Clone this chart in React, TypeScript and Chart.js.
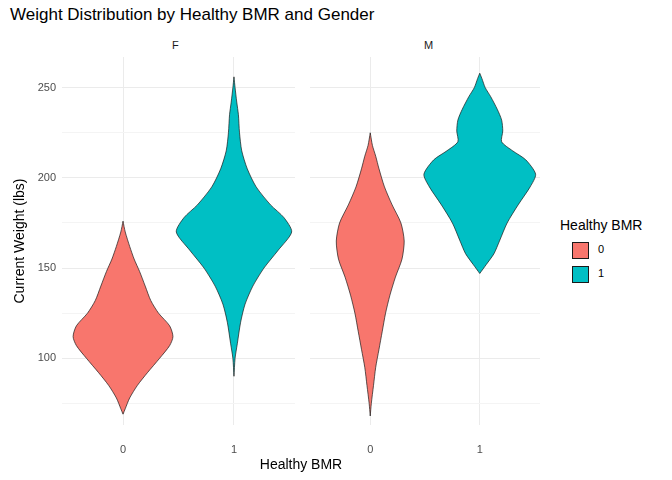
import React, { useEffect, useRef } from "react";
import { Chart, registerables } from "chart.js";
Chart.register(...registerables);

const genders = ["F", "M"];
const groupLabels = ["0", "1"];
const colors = ["#F8766D", "#00BFC4"];
// violin profiles: weight (lbs) and half-width (fraction of category spacing)
const f0Weight = [69, 72, 78, 85, 92, 100, 107, 112, 118, 125, 132, 140, 148, 155, 162, 170, 176];
const f0Half = [0, 0.02, 0.06, 0.13, 0.22, 0.33, 0.42, 0.45, 0.42, 0.32, 0.25, 0.2, 0.15, 0.1, 0.06, 0.02, 0];
const f1Weight = [90, 100, 108, 120, 130, 140, 150, 160, 170, 178, 185, 195, 205, 215, 225, 235, 242, 250, 256];
const f1Half = [0, 0.01, 0.03, 0.06, 0.1, 0.17, 0.27, 0.4, 0.52, 0.45, 0.33, 0.2, 0.12, 0.07, 0.05, 0.04, 0.025, 0.01, 0];
const m0Weight = [68, 75, 85, 95, 105, 115, 125, 135, 145, 155, 165, 175, 185, 195, 205, 212, 218, 225];
const m0Half = [0, 0.01, 0.03, 0.05, 0.08, 0.11, 0.14, 0.18, 0.23, 0.29, 0.31, 0.28, 0.2, 0.13, 0.08, 0.05, 0.02, 0];
const m1Weight = [147, 152, 158, 165, 175, 185, 195, 202, 210, 215, 220, 226, 232, 238, 245, 250, 255, 258];
const m1Half = [0, 0.06, 0.13, 0.18, 0.25, 0.35, 0.46, 0.51, 0.42, 0.3, 0.2, 0.21, 0.2, 0.16, 0.1, 0.05, 0.02, 0];

const panels = [
  [[f0Weight, f0Half], [f1Weight, f1Half]],
  [[m0Weight, m0Half], [m1Weight, m1Half]],
];

const FONT = "'Liberation Sans', Arial, sans-serif";

function violin(center: number, w: number[], h: number[]) {
  const pts: { x: number; y: number }[] = [];
  for (let i = 0; i < w.length; i++) pts.push({ x: center + h[i], y: w[i] });
  for (let i = w.length - 1; i >= 0; i--) pts.push({ x: center - h[i], y: w[i] });
  return pts;
}

function Panel({ idx }: { idx: number }) {
  const ref = useRef<HTMLCanvasElement>(null);
  useEffect(() => {
    const left = idx === 0;
    const chart = new Chart(ref.current!, {
      type: "scatter",
      data: {
        datasets: panels[idx].map((p, g) => ({
          data: violin(g, p[0], p[1]),
          showLine: true,
          fill: "shape" as any,
          backgroundColor: colors[g],
          borderColor: "#1a1a1a",
          borderWidth: 0.7,
          pointRadius: 0,
          tension: 0.25,
        })),
      },
      options: {
        animation: false,
        responsive: false,
        layout: { padding: { left: 10, right: 5, top: 7, bottom: 0 } },
        plugins: { legend: { display: false }, tooltip: { enabled: false } },
        scales: {
          x: {
            type: "linear",
            min: -0.55,
            max: 1.55,
            afterBuildTicks: (s: any) => { s.ticks = [{ value: 0 }, { value: 1 }]; },
            afterFit: (s: any) => { s.height = 55; s.paddingTop = 0; },
            ticks: {
              padding: 18,
              color: "#4D4D4D",
              font: { family: FONT, size: 11 },
              callback: (v: any) => groupLabels[Number(v)] ?? "",
            },
            grid: { color: "#EBEBEB", drawTicks: false },
            border: { display: false },
          },
          y: {
            min: 63,
            max: 267,
            afterBuildTicks: (s: any) => {
              const t = [];
              for (let v = 75; v <= 250; v += 25) t.push({ value: v });
              s.ticks = t;
            },
            afterFit: (s: any) => {
              s.width = left ? 52 : 0;
              s.paddingTop = 0;
              s.paddingBottom = 0;
            },
            ticks: {
              display: left,
              padding: 6,
              color: "#4D4D4D",
              font: { family: FONT, size: 11 },
              callback: (v: any) => (Number(v) % 50 === 0 ? String(v) : ""),
            },
            grid: {
              color: (c: any) => (c.tick && c.tick.value % 50 === 0 ? "#EBEBEB" : "#F4F4F4"),
              drawTicks: false,
            },
            border: { display: false },
            title: {
              display: left,
              text: "Current Weight (lbs)",
              color: "#000",
              font: { family: FONT, size: 14 },
              padding: 2,
            },
          },
        },
      },
    });
    return () => chart.destroy();
  }, [idx]);
  const w = idx === 0 ? 300 : 245;
  return <canvas ref={ref} width={w} height={430} style={{ position: "absolute", left: idx === 0 ? 0 : 300, top: 50, width: w, height: 430 }} />;
}

export default function App() {
  const txt = { position: "absolute" as const, fontFamily: FONT, whiteSpace: "nowrap" as const };
  return (
    <div style={{ position: "fixed", left: 0, top: 0, width: 672, height: 480, background: "#fff" }}>
      <div style={{ ...txt, left: 10, top: 5, fontSize: 17, color: "#000" }}>Weight Distribution by Healthy BMR and Gender</div>
      <div style={{ ...txt, left: 172, top: 39, fontSize: 11, color: "#1A1A1A" }}>{genders[0]}</div>
      <div style={{ ...txt, left: 424, top: 39, fontSize: 11, color: "#1A1A1A" }}>{genders[1]}</div>
      <Panel idx={0} />
      <Panel idx={1} />
      <div style={{ ...txt, left: 0, width: 602, textAlign: "center", top: 456, fontSize: 14, color: "#000" }}>Healthy BMR</div>
      <div style={{ ...txt, left: 560, top: 217, fontSize: 14, color: "#000" }}>Healthy BMR</div>
      {groupLabels.map((g, i) => (
        <React.Fragment key={g}>
          <div style={{ position: "absolute", left: 572, top: 242 + i * 24, width: 17, height: 17, background: colors[i], border: "1px solid #1a1a1a", boxSizing: "border-box" }} />
          <div style={{ ...txt, left: 598, top: 243 + i * 24, fontSize: 11, color: "#000" }}>{g}</div>
        </React.Fragment>
      ))}
    </div>
  );
}
